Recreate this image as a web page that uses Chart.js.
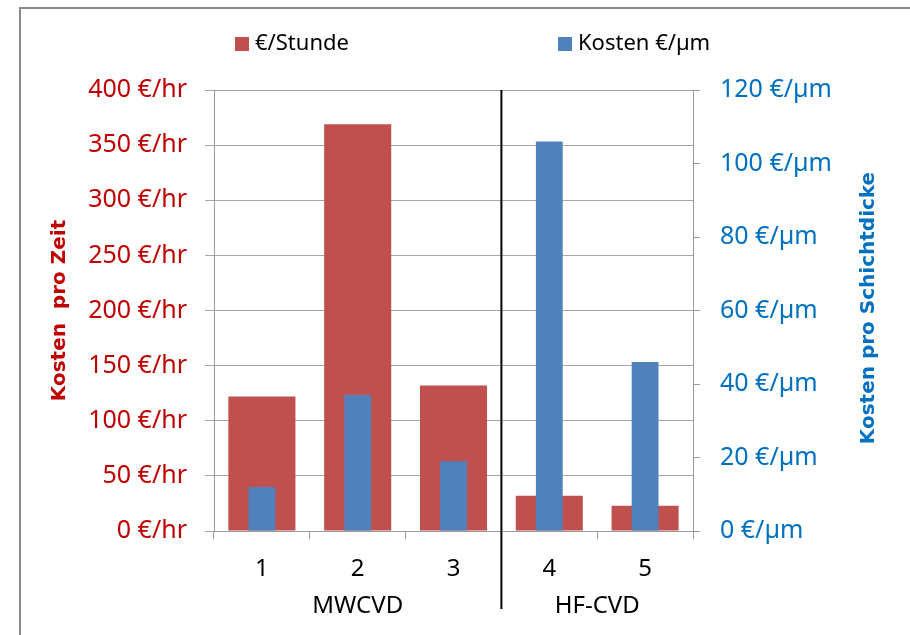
<!DOCTYPE html>
<html>
<head>
<meta charset="utf-8">
<script src="https://cdn.jsdelivr.net/npm/chart.js@4"></script>
<style>
  html, body { margin: 0; padding: 0; background: #fff; overflow: hidden; }
  #frame { position: absolute; left: 19px; top: 7px; width: 1000px; height: 1000px; border-left: 2px solid #8a8a8a; border-top: 2px solid #8a8a8a; }
  #wrap { position: absolute; left: 0; top: 0; width: 910px; height: 635px; }
</style>
</head>
<body>
<div id="frame"></div>
<div id="wrap"><canvas id="costChart"></canvas></div>
<script>
// Categories and their grouping under the axis
const categories = ['1', '2', '3', '4', '5'];
const groupLabels = ['MWCVD', 'HF-CVD'];
const groupFirst = [0, 3];
const groupLast = [2, 4];

// Series values
const costPerHour = [122, 369, 132, 32, 23];     // €/hr, left axis
const costPerMicron = [12, 37, 19, 106, 46];     // €/µm, right axis

// Axis ranges and tick units
const hourMax = 400, hourStep = 50, hourUnit = ' €/hr';
const micronMax = 120, micronStep = 20, micronUnit = ' €/µm';

const tickFont = { family: '"Noto Sans", sans-serif', size: 25 };

// Legend, group labels, separator line and right title
const decorations = {
    id: 'decorations',
    afterDraw(chart) {
        const { ctx, chartArea, scales: { x } } = chart;
        ctx.save();

        // black line between the two groups
        const sepX = (x.getPixelForValue(groupLast[0]) + x.getPixelForValue(groupFirst[1])) / 2;
        ctx.strokeStyle = '#000';
        ctx.lineWidth = 2;
        ctx.beginPath();
        ctx.moveTo(sepX, chartArea.top);
        ctx.lineTo(sepX, 609);
        ctx.stroke();

        // group names
        ctx.font = '24px "Noto Sans"';
        ctx.fillStyle = '#000';
        ctx.textAlign = 'center';
        ctx.textBaseline = 'middle';
        groupLabels.forEach((label, i) => {
            const cx = (x.getPixelForValue(groupFirst[i]) + x.getPixelForValue(groupLast[i])) / 2;
            ctx.fillText(label, cx, 606);
        });

        // legend
        const legendX = [235, 558];
        ctx.font = '22px "Noto Sans"';
        ctx.textAlign = 'left';
        chart.data.datasets.forEach((ds, i) => {
            ctx.fillStyle = ds.backgroundColor;
            ctx.fillRect(legendX[i], 37, 14, 14);
            ctx.fillStyle = '#000';
            ctx.fillText(ds.label, legendX[i] + 20, 44);
        });

        // right axis title, reading upward
        ctx.translate(869, 308);
        ctx.rotate(-Math.PI / 2);
        ctx.textAlign = 'center';
        ctx.font = 'bold 20px "DejaVu Sans"';
        ctx.fillStyle = '#0070c0';
        ctx.fillText('Kosten pro Schichtdicke', 0, 0);
        ctx.restore();
    }
};

const ctx = document.getElementById('costChart').getContext('2d');

new Chart(ctx, {
    type: 'bar',
    data: {
        labels: categories,
        datasets: [{
            label: '€/Stunde',
            data: costPerHour,
            yAxisID: 'y',
            backgroundColor: '#c0504d',
            grouped: false,
            categoryPercentage: 1,
            barPercentage: 0.7,
            order: 2
        }, {
            label: 'Kosten €/µm',
            data: costPerMicron,
            yAxisID: 'y1',
            backgroundColor: '#4f81bd',
            grouped: false,
            categoryPercentage: 1,
            barPercentage: 0.28,
            order: 1
        }]
    },
    options: {
        responsive: true,
        maintainAspectRatio: false,
        animation: false,
        layout: { padding: { top: 90, left: 0, right: 0, bottom: 0 } },
        plugins: {
            legend: { display: false },
            tooltip: { enabled: false }
        },
        scales: {
            x: {
                afterFit: s => { s.height = 104; },
                grid: { offset: true, drawOnChartArea: false, tickLength: 8, color: '#9a9a9a' },
                border: { color: '#9a9a9a' },
                ticks: { color: '#000', font: { family: '"Noto Sans", sans-serif', size: 24 }, padding: 16 }
            },
            y: {
                position: 'left',
                min: 0,
                max: hourMax,
                afterFit: s => { s.width = 214; },
                grid: { color: '#a6a6a6', tickLength: 9 },
                border: { color: '#9a9a9a' },
                ticks: {
                    stepSize: hourStep,
                    color: '#c00000',
                    font: tickFont,
                    padding: 18,
                    callback: v => v + hourUnit
                },
                title: {
                    display: true,
                    text: 'Kosten  pro Zeit',
                    color: '#c00000',
                    font: { family: '"DejaVu Sans"', size: 20, weight: 'bold' },
                    padding: { top: 48, bottom: 0 }
                }
            },
            y1: {
                position: 'right',
                min: 0,
                max: micronMax,
                afterFit: s => { s.width = 217; },
                grid: { drawOnChartArea: false, tickLength: 7, color: '#9a9a9a' },
                border: { color: '#9a9a9a' },
                ticks: {
                    stepSize: micronStep,
                    color: '#0070c0',
                    font: tickFont,
                    padding: 20,
                    callback: v => v + micronUnit
                }
            }
        }
    },
    plugins: [decorations]
});
</script>
</body>
</html>
